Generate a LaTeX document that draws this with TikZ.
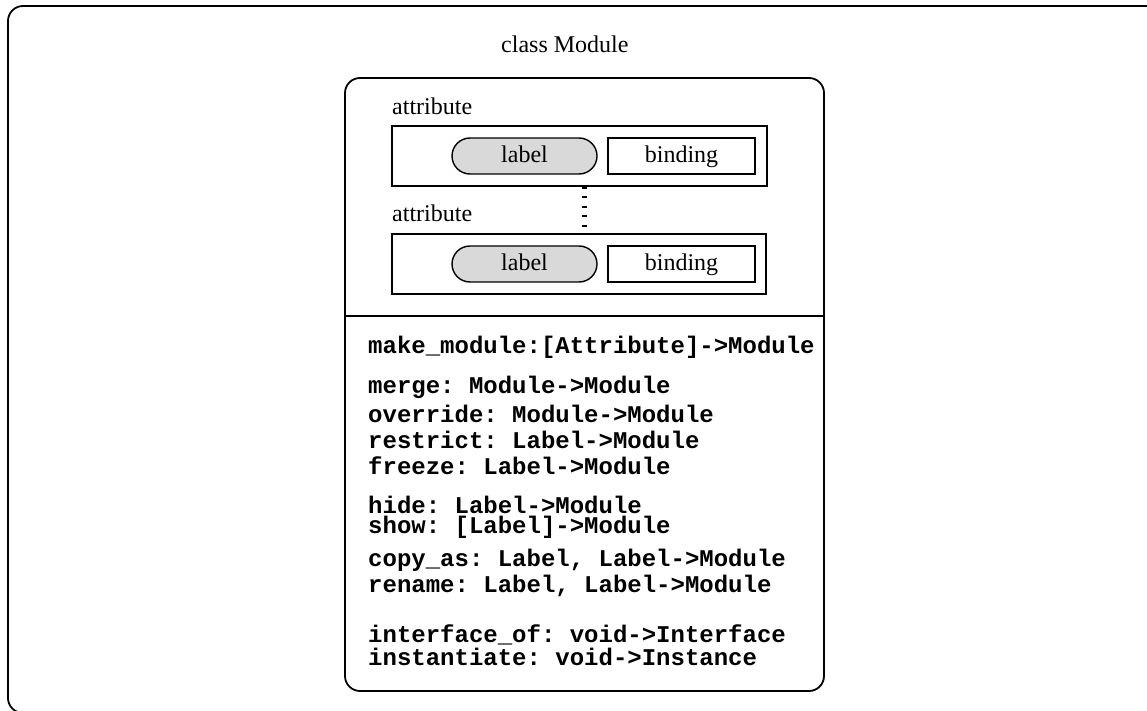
\documentclass[tikz,border=0pt]{standalone}
\usepackage{fontspec}
\setmainfont{Liberation Serif}
\setmonofont{Liberation Mono}
\usetikzlibrary{shapes.misc}
\definecolor{pillgray}{HTML}{D9D9D9}
\tikzset{
  frame/.style={draw, line width=1.8pt, rounded corners=15pt, inner sep=0pt},
  attrbox/.style={draw, line width=1.4pt, inner sep=0pt, minimum height=60pt},
  pill/.style={draw, line width=1.4pt, fill=pillgray, rounded rectangle, inner sep=0pt, minimum width=145pt, minimum height=36pt, text height=18.5pt, text depth=5pt, font=\fontsize{24}{28}\selectfont},
  bindbox/.style={draw, line width=1.4pt, inner sep=0pt, minimum width=147pt, minimum height=36pt, text height=18.5pt, text depth=5pt, font=\fontsize{24}{28}\selectfont},
  serifl/.style={anchor=base west, inner sep=0pt, font=\fontsize{24}{28}\selectfont},
  meth/.style={anchor=base west, inner sep=0pt, font=\fontsize{24}{28}\selectfont\ttfamily\bfseries},
  dotlink/.style={line width=5pt, dash pattern=on 2pt off 7.6pt}
}
\begin{document}
\begin{tikzpicture}[x=1pt,y=-1pt]
\useasboundingbox (0,0) rectangle (1147,711);
\begin{scope}
\clip (0,0) rectangle (1147,711);
\node[frame, minimum width=1157pt, minimum height=707pt] (outer) at (586.5,359.5) {};
\end{scope}
\node[serifl] (title) at (501,53) {class Module};
\node[frame, minimum width=479pt, minimum height=613pt] (module) at (584.5,384.5) {};
\coordinate (divy) at (0,316);
\draw[line width=1.6pt] (module.west |- divy) -- (module.east |- divy);

\node[serifl] (at1) at (392,115) {attribute};
\node[attrbox, minimum width=375pt] (attr1) at (579.5,156) {};
\node[pill] (label1) at (524.5,156) {label};
\node[bindbox] (bind1) at (681.5,156) {binding};

\node[serifl] (at2) at (392,222) {attribute};
\node[attrbox, minimum width=374pt] (attr2) at (579,264) {};
\node[pill] (label2) at (524.5,264) {label};
\node[bindbox] (bind2) at (681.5,264) {binding};

\coordinate (dotend) at (584,229);
\draw[dotlink] (attr1.south -| dotend) -- (dotend);

\node[meth] (m1) at (368,353) {make\_module:[Attribute]->Module};
\node[meth] (m2) at (368,393) {merge: Module->Module};
\node[meth] (m3) at (368,422) {override: Module->Module};
\node[meth] (m4) at (368,448) {restrict: Label->Module};
\node[meth] (m5) at (368,474) {freeze: Label->Module};
\node[meth] (m6) at (368,513) {hide: Label->Module};
\node[meth] (m7) at (368,533) {show: [Label]->Module};
\node[meth] (m8) at (368,566) {copy\_as: Label, Label->Module};
\node[meth] (m9) at (368,592) {rename: Label, Label->Module};
\node[meth] (m10) at (368,642) {interface\_of: void->Interface};
\node[meth] (m11) at (368,665) {instantiate: void->Instance};
\end{tikzpicture}
\end{document}
